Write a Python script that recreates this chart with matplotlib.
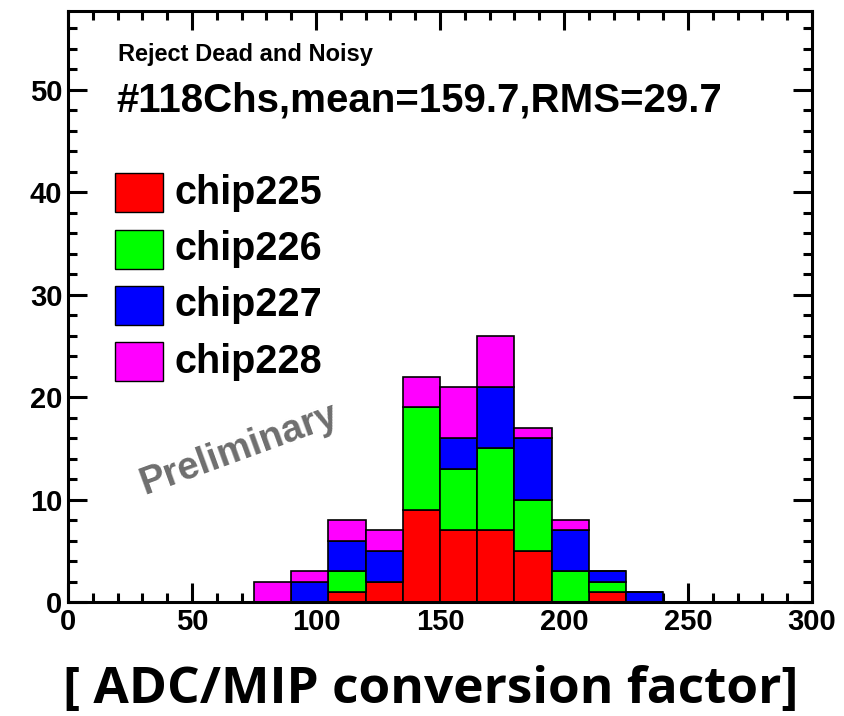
import matplotlib
matplotlib.use("Agg")
import matplotlib.pyplot as plt
from matplotlib.ticker import MultipleLocator
from matplotlib.patches import Rectangle

# Data (stacked histogram, bin width 15)
bin_left = [75, 90, 105, 120, 135, 150, 165, 180, 195, 210, 225]
bin_width = 15
chip225 = [0, 0, 1, 2, 9, 7, 7, 5, 0, 1, 0]
chip226 = [0, 0, 2, 0, 10, 6, 8, 5, 3, 1, 0]
chip227 = [0, 2, 3, 3, 0, 3, 6, 6, 4, 1, 1]
chip228 = [2, 1, 2, 2, 3, 5, 5, 1, 1, 0, 0]
series = [("chip225", chip225, "#ff0000"),
          ("chip226", chip226, "#00ff00"),
          ("chip227", chip227, "#0000ff"),
          ("chip228", chip228, "#ff00ff")]

xticks = [0, 50, 100, 150, 200, 250, 300]
yticks = [0, 10, 20, 30, 40, 50]

FONT = "Liberation Sans"

fig = plt.figure(figsize=(8.45, 7.16), dpi=100)
ax = fig.add_axes([68/845, 1-602/716, (812-68)/845, (602-11)/716])

bottom = [0]*len(bin_left)
for name, vals, col in series:
    ax.bar(bin_left, vals, width=bin_width, bottom=bottom, align='edge',
           color=col, edgecolor='black', linewidth=1.2, zorder=2)
    bottom = [b+v for b, v in zip(bottom, vals)]

ax.set_xlim(0, 300)
ax.set_ylim(0, 57.7)
ax.set_xticks(xticks)
ax.set_yticks(yticks)
ax.xaxis.set_minor_locator(MultipleLocator(10))
ax.yaxis.set_minor_locator(MultipleLocator(2))
ax.tick_params(which='both', direction='in', top=True, right=True, width=2.2, color='black')
ax.tick_params(which='major', length=13.5)
ax.tick_params(which='minor', length=6.5)
ax.tick_params(axis='x', which='major', pad=4)
ax.tick_params(axis='y', which='major', pad=4)
for lab in ax.get_xticklabels() + ax.get_yticklabels():
    lab.set_fontfamily(FONT)
    lab.set_fontweight('bold')
    lab.set_fontsize(21)
for s in ax.spines.values():
    s.set_linewidth(2.2)

# Texts
fig.text(118/845, 1-54/716, "Reject Dead and Noisy", fontfamily=FONT, fontweight='bold',
         fontsize=17, va='center', ha='left')
fig.text(116/845, 1-101/716, "#118Chs,mean=159.7,RMS=29.7", fontfamily=FONT, fontweight='bold',
         fontsize=29, va='center', ha='left')

# Legend
ycent = [192.5, 249.5, 305, 361.5]
for (name, vals, col), yc in zip(series, ycent):
    r = Rectangle((115/845, 1-(yc+19.5)/716), 48/845, 39/716, transform=fig.transFigure,
                  facecolor=col, edgecolor='black', linewidth=1.0)
    fig.patches.append(r)
    fig.text(174/845, 1-yc/716, name, fontfamily=FONT, fontweight='bold', fontsize=28.5,
             va='center', ha='left')

fig.text(239/845, 1-449/716, "Preliminary", fontfamily=FONT, fontweight='bold', fontsize=27.5,
         color='#6e6e6e', rotation=20, ha='center', va='center', rotation_mode='anchor')

fig.text(431/845, 1-690/716, "[ ADC/MIP conversion factor]", fontfamily="Open Sans",
         fontweight='bold', fontsize=37, ha='center', va='center')

fig.savefig("out.png", dpi=100)
